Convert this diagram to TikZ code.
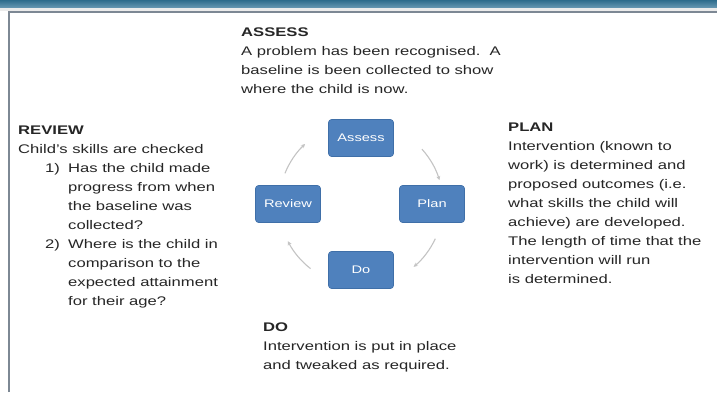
\documentclass[tikz,border=0pt]{standalone}
\usepackage{fontspec}
\setmainfont{Liberation Sans}[FakeStretch=1.33]
\usetikzlibrary{arrows.meta}
\definecolor{barA}{HTML}{2E6C8C}
\definecolor{barB}{HTML}{6A9AB4}
\definecolor{frame}{HTML}{7D8894}
\definecolor{boxblue}{HTML}{4F81BD}
\definecolor{boxedge}{HTML}{3F6FA8}
\definecolor{arrowgrey}{HTML}{C4C4C4}
\definecolor{txtgrey}{HTML}{262626}
\tikzset{
  txt/.style={anchor=north west, inner sep=0pt, align=left, text=txtgrey,
    font=\fontsize{12.5}{19}\selectfont},
  cyclebox/.style={draw=boxedge, fill=boxblue, rounded corners=3pt, line width=0.6pt,
    minimum width=65pt, minimum height=37pt, text=white, font=\fontsize{11}{12}\selectfont},
  cyc/.style={draw=arrowgrey, line width=1.1pt, -{Stealth[length=4pt,width=4pt]}},
}
\begin{document}
\begin{tikzpicture}[x=1pt,y=1pt]
\useasboundingbox (0,0) rectangle (717,-392);
\fill[white] (0,0) rectangle (717,-392);
% top bar and frame
\shade[top color=barA, bottom color=barB] (0,0) rectangle (717,-8);
\fill[black!8] (0,-8) rectangle (717,-11);
\draw[frame, line width=2pt] (9,-392) -- (9,-12) -- (717,-12);

% cycle boxes
\node[cyclebox] (assess) at (361,-138) {Assess};
\node[cyclebox] (plan)   at (432,-204) {Plan};
\node[cyclebox] (do)     at (361,-270) {Do};
\node[cyclebox] (review) at (288,-204) {Review};
\coordinate (c) at (361,-204);
\draw[cyc] ([shift={(c)}]42:82) arc[start angle=42, end angle=17, radius=82];
\draw[cyc] ([shift={(c)}]-25:82) arc[start angle=-25, end angle=-50, radius=82];
\draw[cyc] ([shift={(c)}]-128:82) arc[start angle=-128, end angle=-153, radius=82];
\draw[cyc] ([shift={(c)}]158:82) arc[start angle=158, end angle=133, radius=82];

% texts
\node[txt] (tassess) at (241,-28) {\textbf{ASSESS}\\
A problem has been recognised.\ \ A\\
baseline is been collected to show\\
where the child is now.};
\node[txt] (treview) at (18,-126) {\textbf{REVIEW}\\
Child's skills are checked\\
\hspace*{27pt}\makebox[23pt][l]{1)}Has the child made\\
\hspace*{50pt}progress from when\\
\hspace*{50pt}the baseline was\\
\hspace*{50pt}collected?\\
\hspace*{27pt}\makebox[23pt][l]{2)}Where is the child in\\
\hspace*{50pt}comparison to the\\
\hspace*{50pt}expected attainment\\
\hspace*{50pt}for their age?};
\node[txt] (tplan) at (508,-123) {\textbf{PLAN}\\
Intervention (known to\\
work) is determined and\\
proposed outcomes (i.e.\\
what skills the child will\\
achieve) are developed.\\
The length of time that the\\
intervention will run\\
is determined.};
\node[txt] (tdo) at (263,-323) {\textbf{DO}\\
Intervention is put in place\\
and tweaked as required.};
\end{tikzpicture}
\end{document}
